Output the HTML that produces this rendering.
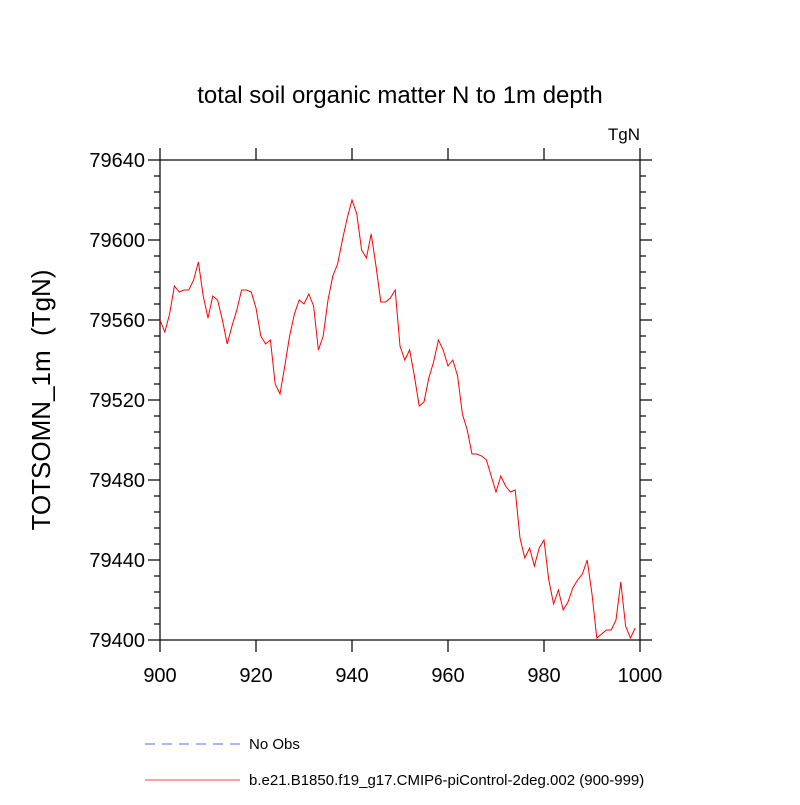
<!DOCTYPE html>
<html><head><meta charset="utf-8"><style>
body{margin:0;background:#fff}
svg text{font-family:"Liberation Sans",sans-serif;fill:#000}
</style></head><body>
<svg id="chart" width="800" height="800" xmlns="http://www.w3.org/2000/svg">
<text x="400" y="103" font-size="24" text-anchor="middle">total soil organic matter N to 1m depth</text>
<text x="640" y="140" font-size="17" text-anchor="end">TgN</text>
<text transform="translate(50,400) rotate(-90)" font-size="26" text-anchor="middle" xml:space="preserve" style="white-space:pre">TOTSOMN_1m  (TgN)</text>
<rect x="160" y="160" width="480" height="480" fill="none" stroke="#000" stroke-width="1.2"/>
<g id="axes"></g>
<polyline id="series" fill="none" stroke="#ff0000" stroke-width="1"/>
<line x1="145" y1="744" x2="240" y2="744" stroke="#6666ff" stroke-dasharray="10,7"/>
<text x="249" y="749" font-size="15">No Obs</text>
<line x1="145" y1="780" x2="240" y2="780" stroke="#ff0000" stroke-width="0.8"/>
<text x="249" y="785" font-size="15">b.e21.B1850.f19_g17.CMIP6-piControl-2deg.002 (900-999)</text>
</svg>
<script>
const years = [];
for (let y = 900; y <= 999; y++) years.push(y);
const values = [79560,79554,79563,79577,79574,79575,79575,79580,79589,79572,
79561,79572,79570,79560,79548,79557,79565,79575,79575,79574,
79566,79552,79548,79550,79528,79523,79537,79552,79563,79570,
79568,79573,79567,79545,79552,79570,79582,79588,79600,79611,
79620,79613,79595,79591,79603,79587,79569,79569,79571,79575,
79547,79540,79545,79532,79517,79519,79531,79539,79550,79545,
79537,79540,79532,79513,79505,79493,79493,79492,79490,79482,
79474,79482,79477,79474,79475,79451,79441,79446,79437,79446,
79450,79430,79418,79425,79415,79419,79426,79430,79433,79440,
79423,79401,79403,79405,79405,79410,79429,79407,79401,79406];
const xTicks = [900,920,940,960,980,1000];
const yTicks = [79400,79440,79480,79520,79560,79600,79640];
const xMin=900,xMax=1000,yMin=79400,yMax=79640;
const L=160,R=640,T=160,B=640;
const sx=v=>L+(v-xMin)/(xMax-xMin)*(R-L);
const sy=v=>B-(v-yMin)/(yMax-yMin)*(B-T);
const ns="http://www.w3.org/2000/svg";
const g=document.getElementById('axes');
function line(x1,y1,x2,y2,name){
  const l=document.createElementNS(ns,'line');
  l.setAttribute('x1',x1);l.setAttribute('y1',y1);l.setAttribute('x2',x2);l.setAttribute('y2',y2);
  l.setAttribute('stroke','#000');l.setAttribute('stroke-width','1.2');
  
  
  g.appendChild(l);
}
function text(x,y,s,anchor,name){
  const t=document.createElementNS(ns,'text');
  t.setAttribute('x',x);t.setAttribute('y',y);t.setAttribute('font-size','20');t.setAttribute('text-anchor',anchor);
  t.textContent=s;
  
  
  g.appendChild(t);
}
xTicks.forEach(v=>{
  const x=sx(v);
  line(x,B,x,B+12,'x-tick');
  line(x,T,x,T-12,'x-tick-top');
  text(x,B+42,String(v),'middle','x-tick-label');
});
for(let v=yMin;v<=yMax;v+=8){
  const y=sy(v);
  const major=yTicks.includes(v);
  line(L,y,L-(major?12:6),y,major?'y-tick':'y-minor-tick');
  line(R,y,R+(major?12:6),y,major?'y-tick-right':'y-minor-tick-right');
}
yTicks.forEach(v=>text(L-15,sy(v)+7,String(v),'end','y-tick-label'));
document.getElementById('series').setAttribute('points',years.map((y,i)=>sx(y)+','+sy(values[i])).join(' '));
</script>
</body></html>
